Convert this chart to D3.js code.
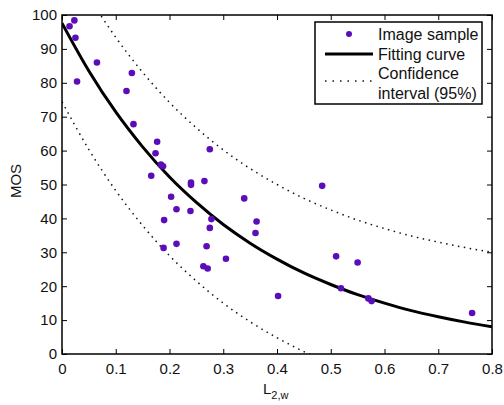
<!DOCTYPE html>
<html>
<head>
<meta charset="utf-8">
<script src="https://cdn.jsdelivr.net/npm/d3@7"></script>
<style>
  body { margin: 0; background: #fff; }
  text { font-family: "Liberation Sans", Arial, Helvetica, sans-serif; }
</style>
</head>
<body>
<div id="container"></div>
<script>
const w = 504;
const h = 405;
const margin = { left: 62, right: 12, top: 15, bottom: 51 };

// image samples (L2,w , MOS)
let sampleX   = [0.023, 0.014, 0.025, 0.065, 0.028, 0.130, 0.120, 0.133, 0.177, 0.174,
                 0.184, 0.188, 0.275, 0.166, 0.240, 0.240, 0.265, 0.203, 0.339, 0.213,
                 0.239, 0.190, 0.278, 0.362, 0.275, 0.360, 0.213, 0.189, 0.269, 0.305,
                 0.263, 0.271, 0.484, 0.510, 0.550, 0.519, 0.402, 0.570, 0.576, 0.763];
let sampleMOS = [98.4, 96.7, 93.3, 86.0, 80.4, 82.9, 77.6, 67.8, 62.6, 59.2,
                 55.9, 55.4, 60.4, 52.6, 50.6, 49.9, 51.0, 46.4, 45.9, 42.7,
                 42.2, 39.5, 39.8, 39.1, 37.2, 35.7, 32.5, 31.3, 31.8, 28.1,
                 25.9, 25.2, 49.6, 28.8, 27.0, 19.4, 17.1, 16.4, 15.6, 12.1];

// fitting curve and 95% confidence bounds
let curveX   = [0, 0.05, 0.1, 0.15, 0.2, 0.25, 0.3, 0.35, 0.4, 0.45, 0.5, 0.55, 0.6, 0.65, 0.7, 0.75, 0.8];
let curveMOS = [97.6, 83.5, 71.4, 61.1, 52.2, 44.7, 38.2, 32.7, 28.0, 23.9, 20.5, 17.5, 15.0, 12.8, 11.0, 9.4, 8.0];
let upperMOS = [119.6, 105.5, 93.4, 83.1, 74.2, 66.7, 60.2, 54.7, 50.0, 45.9, 42.5, 39.5, 37.0, 34.8, 33.0, 31.4, 30.0];
let lowerMOS = [74.4, 60.3, 48.2, 37.9, 29.0, 21.5, 15.0, 9.5, 4.8, 0.7, -2.7, -5.7, -8.2, -10.4, -12.2, -13.8, -15.2];

let xTicks = [0, 0.1, 0.2, 0.3, 0.4, 0.5, 0.6, 0.7, 0.8];
let yTicks = [0, 10, 20, 30, 40, 50, 60, 70, 80, 90, 100];

let legendLabels = ["Image sample", "Fitting curve", "Confidence", "interval (95%)"];

const dotColor = "#5a0db8";

let xScale = d3.scaleLinear().domain([0, 0.8]).range([margin.left, w - margin.right]);
let yScale = d3.scaleLinear().domain([0, 100]).range([h - margin.bottom, margin.top]);

let viz = d3.select("#container").append("svg").attr("width", w).attr("height", h);

viz.append("defs").append("clipPath").attr("id", "plotClip")
    .append("rect")
    .attr("x", margin.left).attr("y", margin.top)
    .attr("width", w - margin.left - margin.right)
    .attr("height", h - margin.top - margin.bottom);

let plot = viz.append("g").attr("clip-path", "url(#plotClip)");

function lineFor(values){
    let pts = curveX.map(function(x, i){ return [x, values[i]]; });
    return d3.line()
        .x(function(d){ return xScale(d[0]); })
        .y(function(d){ return yScale(d[1]); })
        .curve(d3.curveMonotoneX)(pts);
}

// confidence bounds
[upperMOS, lowerMOS].forEach(function(vals){
    plot.append("path")
        .attr("d", lineFor(vals))
        .attr("fill", "none")
        .attr("stroke", "#111")
        .attr("stroke-width", 1.5)
        .attr("stroke-dasharray", "1.5,4.5");
});

// fitting curve
plot.append("path")
    .attr("d", lineFor(curveMOS))
    .attr("fill", "none")
    .attr("stroke", "black")
    .attr("stroke-width", 3);

// samples
plot.selectAll(".dot").data(sampleX).enter()
    .append("circle")
    .attr("class", "dot")
    .attr("cx", function(d){ return xScale(d); })
    .attr("cy", function(d, i){ return yScale(sampleMOS[i]); })
    .attr("r", 3.3)
    .attr("fill", dotColor);

// axes, ticks pointing inward on all four sides
let fmtX = function(d){ return d === 0 ? "0" : d3.format(".1f")(d); };
let xAxis = d3.axisBottom(xScale).tickValues(xTicks).tickFormat(fmtX).tickSizeInner(-5).tickSizeOuter(0).tickPadding(9);
let yAxis = d3.axisLeft(yScale).tickValues(yTicks).tickSizeInner(-5).tickSizeOuter(0).tickPadding(5);
let xTop = d3.axisTop(xScale).tickValues(xTicks).tickFormat("").tickSizeInner(-5).tickSizeOuter(0);
let yRight = d3.axisRight(yScale).tickValues(yTicks).tickFormat("").tickSizeInner(-5).tickSizeOuter(0);

let gx = viz.append("g").attr("transform", "translate(0," + (h - margin.bottom) + ")").call(xAxis);
let gy = viz.append("g").attr("transform", "translate(" + margin.left + ",0)").call(yAxis);
let gt = viz.append("g").attr("transform", "translate(0," + margin.top + ")").call(xTop);
let gr = viz.append("g").attr("transform", "translate(" + (w - margin.right) + ",0)").call(yRight);

[gx, gy, gt, gr].forEach(function(g){
    g.select(".domain").remove();
    g.selectAll("line").attr("stroke", "black").attr("stroke-width", 1);
    g.selectAll("text").attr("fill", "#111").style("font-size", "15px");
});

viz.append("rect")
    .attr("x", margin.left).attr("y", margin.top)
    .attr("width", w - margin.left - margin.right)
    .attr("height", h - margin.top - margin.bottom)
    .attr("fill", "none")
    .attr("stroke", "black")
    .attr("stroke-width", 1.5);

// axis titles
viz.append("text")
    .attr("transform", "translate(21,181) rotate(-90)")
    .attr("text-anchor", "middle")
    .style("font-size", "15px")
    .attr("fill", "#111")
    .text("MOS");

let xt = viz.append("text")
    .attr("x", 263).attr("y", 394)
    .style("font-size", "15px")
    .attr("fill", "#111");
xt.append("tspan").text("L");
xt.append("tspan").attr("dy", 5).style("font-size", "11px").text("2,w");

// legend
let lg = viz.append("g");
lg.append("rect")
    .attr("x", 315).attr("y", 22)
    .attr("width", 167).attr("height", 82)
    .attr("fill", "white")
    .attr("stroke", "black")
    .attr("stroke-width", 1.5);

lg.append("circle").attr("cx", 349).attr("cy", 34).attr("r", 3).attr("fill", dotColor);
lg.append("line").attr("x1", 325).attr("x2", 373).attr("y1", 54).attr("y2", 54)
    .attr("stroke", "black").attr("stroke-width", 3);
lg.append("line").attr("x1", 325).attr("x2", 373).attr("y1", 81).attr("y2", 81)
    .attr("stroke", "#111").attr("stroke-width", 1.5).attr("stroke-dasharray", "1.5,6");

lg.selectAll(".ltext").data(legendLabels).enter()
    .append("text")
    .attr("class", "ltext")
    .attr("x", 378)
    .attr("y", function(d, i){ return 40 + i * 19.5; })
    .style("font-size", "16px")
    .attr("fill", "#111")
    .text(function(d){ return d; });
</script>
</body>
</html>
